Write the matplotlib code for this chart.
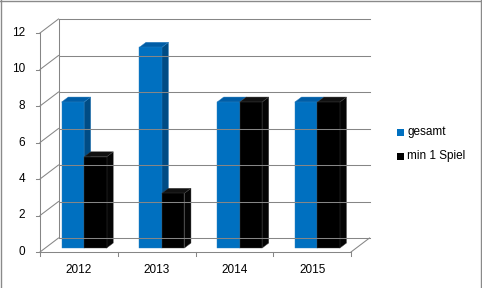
import matplotlib
matplotlib.use('Agg')
import matplotlib.pyplot as plt
from matplotlib.patches import Polygon, Rectangle
from matplotlib.lines import Line2D

years = ['2012', '2013', '2014', '2015']
gesamt = [8, 11, 8, 8]
min1 = [5, 3, 8, 8]
series_names = ['gesamt', 'min 1 Spiel']
yticks = [0, 2, 4, 6, 8, 10, 12]

W, H = 482, 288
fig = plt.figure(figsize=(W / 100, H / 100), dpi=100)
x0, x1 = 40, 351
y0, y1 = 252, 33
ax = fig.add_axes([x0 / W, 1 - y0 / H, (x1 - x0) / W, (y0 - y1) / H])
ax.set_xlim(0, len(years))
ax.set_ylim(0, 12)
ax.axis('off')

px_x = (x1 - x0) / len(years)
px_y = (y0 - y1) / 12
DX = 18.5 / px_x
DY = 14.0 / px_y
GRID = '#868686'
LW = 0.75
FONT = 'Liberation Sans'
FS = 8.5


def P(x, y, z):
    return (x + z * DX, y + z * DY)


def line(pts, **kw):
    xs = [p[0] for p in pts]
    ys = [p[1] for p in pts]
    ax.add_line(Line2D(xs, ys, color=GRID, lw=LW, clip_on=False, **kw))


n = len(years)
# back wall gridlines and side wall
for t in yticks:
    line([P(0, t, 1), P(n, t, 1)])
    line([P(0, t, 0), P(0, t, 1)])
    # y tick marks
    line([(0, t), (-4 / px_x, t)])
    ax.text(-15 / px_x, t, str(t), ha='right', va='center', fontsize=FS,
            family=FONT, color='#000000')
line([P(0, 0, 1), P(0, 12, 1)])
line([P(0, 0, 0), P(0, 12, 0)])
# floor
line([P(0, 0, 0), P(n, 0, 0)])
line([P(n, 0, 0), P(n, 0, 1)])
for i in range(n + 1):
    line([(i, 0), (i, -4 / px_y)])
for i, yr in enumerate(years):
    ax.text(i + 0.5, -18 / px_y, yr, ha='center', va='center', fontsize=FS,
            family=FONT, color='#000000')

BW = 22.5 / px_x
z0, z1 = 0.28, 0.64


def bar(xl, xr, h, cf, ct, cs, ec):
    side = [P(xr, 0, z0), P(xr, 0, z1), P(xr, h, z1), P(xr, h, z0)]
    top = [P(xl, h, z0), P(xr, h, z0), P(xr, h, z1), P(xl, h, z1)]
    front = [P(xl, 0, z0), P(xr, 0, z0), P(xr, h, z0), P(xl, h, z0)]
    for poly, c in ((side, cs), (top, ct), (front, cf)):
        ax.add_patch(Polygon(poly, closed=True, facecolor=c, edgecolor=ec,
                             lw=0.3, clip_on=False))


for i in range(n):
    c = i + 0.5
    bar(c - BW, c, gesamt[i], '#0070C0', '#005DA6', '#004C85', '#2a7fc0')
    bar(c, c + BW, min1[i], '#000000', '#111111', '#050505', '#404040')

# legend
leg_cols = ['#0070C0', '#000000']
leg_y = [132, 156]
for name, col, ly in zip(series_names, leg_cols, leg_y):
    fig.add_artist(Rectangle((397 / W, 1 - (ly + 3.5) / H), 7 / W, 7 / H,
                             transform=fig.transFigure, facecolor=col,
                             edgecolor='none'))
    fig.text(407 / W, 1 - ly / H, name, ha='left', va='center', fontsize=FS,
             family=FONT, color='#000000')

# outer border
bc = '#8a8a8a'
fig.add_artist(Line2D([0.5 / W, 0.5 / W], [0, 1], transform=fig.transFigure, color=bc, lw=1.0))
fig.add_artist(Line2D([0, 480.5 / W], [1 - 0.5 / H, 1 - 0.5 / H], transform=fig.transFigure, color=bc, lw=1.0))
fig.add_artist(Line2D([480.5 / W, 480.5 / W], [0, 1], transform=fig.transFigure, color=bc, lw=1.0))

fig.savefig('out.png', dpi=100)
